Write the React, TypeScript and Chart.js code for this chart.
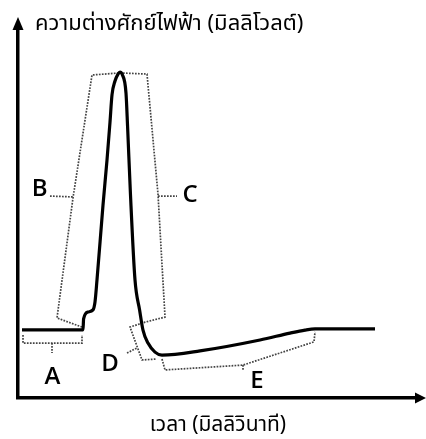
import React, { useEffect, useRef } from "react";
import Chart from "chart.js/auto";

// Membrane potential trace (x: ms, y: mV)
const traceX = [1, 16.25, 16.4, 17.5, 18.75, 19.25, 19.75, 21.25, 22.25, 23, 23.5, 24.25, 25, 25.5, 26, 27, 27.4, 28.1, 29.25, 30.4, 31.25, 32.5, 34.25, 36, 45.5, 60.5, 68, 71.75, 74.25, 89.25];
const traceY = [-70.6, -70.6, -65.9, -62.9, -62, -58.6, -49.1, -16.8, 2.6, 19, 30.7, 36.7, 39.7, 40.6, 39.7, 31.5, 16.9, -11.6, -49.1, -62, -70.7, -76.3, -80.2, -81.5, -79.7, -75, -72, -70.7, -70.2, -70.2];

// Dotted brackets
const bracketAX = [1.25, 1.25, 16, 16];
const bracketAY = [-72.8, -76.3, -76.3, -72.8];
const tickAX = [8.5, 8.5];
const tickAY = [-76.3, -80.6];
const bracketBX = [16, 9.75, 13.75, 18.5, 25.5];
const bracketBY = [-69.4, -65.5, -13.7, 39.3, 40.2];
const tickBX = [8, 13.75];
const tickBY = [-12.9, -13.3];
const bracketCDX = [25.5, 32.25, 35, 36.75, 31.75, 28, 31, 34.5];
const bracketCDY = [40.2, 39.7, -12.1, -65.1, -67.3, -69.4, -83.6, -83.2];
const tickCX = [35, 39.75];
const tickCY = [-12.9, -12.9];
const tickDX = [27.25, 29.75];
const tickDY = [-80.6, -78.4];
const bracketEX = [36, 36.75, 56.25, 74, 74.25];
const bracketEY = [-83.2, -87.9, -85.8, -75.8, -71.5];
const tickEX = [56.25, 56.25];
const tickEY = [-85.8, -88.4];

// Phase letters
const letters = ["A", "B", "C", "D", "E"];
const letterX = [8.6, 5.4, 43, 23, 59.75];
const letterY = [-91, -10, -12.5, -85.4, -92.7];

const yTitle = "ความต่างศักย์ไฟฟ้า (มิลลิโวลต์)";
const xTitle = "เวลา (มิลลิวินาที)";

const THAI_FONT = "'Noto Sans Thai', 'Noto Sans Thai UI', Tahoma, 'Noto Sans', 'DejaVu Sans', sans-serif";
const LATIN_FONT = "'Open Sans', 'Noto Sans', sans-serif";

const pts = (xs: number[], ys: number[]) => xs.map((x, i) => ({ x, y: ys[i] }));

const dotted = (xs: number[], ys: number[]) => ({
  data: pts(xs, ys),
  borderColor: "#444",
  borderWidth: 1.7,
  borderDash: [1.7, 1.3],
  pointRadius: 0,
  tension: 0,
  fill: false,
});

const annotate = {
  id: "annotate",
  afterDraw(chart: any) {
    const { ctx, chartArea, scales } = chart;
    ctx.save();
    ctx.fillStyle = "#000";
    const xl = chartArea.left;
    ctx.beginPath();
    ctx.moveTo(xl, chartArea.top - 10);
    ctx.lineTo(xl - 5.5, chartArea.top + 3);
    ctx.lineTo(xl + 5.5, chartArea.top + 3);
    ctx.closePath();
    ctx.fill();
    const yb = chartArea.bottom;
    ctx.beginPath();
    ctx.moveTo(chart.width, yb);
    ctx.lineTo(chartArea.right - 3, yb - 5.5);
    ctx.lineTo(chartArea.right - 3, yb + 5.5);
    ctx.closePath();
    ctx.fill();

    ctx.font = `600 24px ${LATIN_FONT}`;
    ctx.textAlign = "center";
    ctx.textBaseline = "middle";
    letters.forEach((l, i) => {
      ctx.fillText(l, scales.x.getPixelForValue(letterX[i]), scales.y.getPixelForValue(letterY[i]));
    });

    ctx.font = `22px ${THAI_FONT}`;
    ctx.textAlign = "left";
    ctx.textBaseline = "alphabetic";
    ctx.fillText(yTitle, xl + 17, 30);
    ctx.restore();
  },
};

export default function App() {
  const ref = useRef<HTMLCanvasElement>(null);
  useEffect(() => {
    if (!ref.current) return;
    const chart = new Chart(ref.current, {
      type: "line",
      data: {
        datasets: [
          {
            data: pts(traceX, traceY),
            borderColor: "#000",
            borderWidth: 3.2,
            pointRadius: 0,
            cubicInterpolationMode: "monotone",
            fill: false,
          },
          dotted(bracketAX, bracketAY),
          dotted(tickAX, tickAY),
          dotted(bracketBX, bracketBY),
          dotted(tickBX, tickBY),
          dotted(bracketCDX, bracketCDY),
          dotted(tickCX, tickCY),
          dotted(tickDX, tickDY),
          dotted(bracketEX, bracketEY),
          dotted(tickEX, tickEY),
        ] as any,
      },
      options: {
        animation: false,
        responsive: false,
        layout: { padding: { left: 18, right: 8, top: 27, bottom: 0 } },
        plugins: { legend: { display: false }, tooltip: { enabled: false }, title: { display: false } },
        scales: {
          x: {
            type: "linear",
            min: 0,
            max: 100,
            ticks: { display: false },
            grid: { display: false },
            border: { display: true, color: "#000", width: 3.5 },
            title: {
              display: true,
              text: xTitle,
              color: "#000",
              font: { size: 21, family: THAI_FONT },
              padding: 0,
            },
            afterFit: (s: any) => {
              s.height = 41;
            },
          },
          y: {
            type: "linear",
            min: -100,
            max: 60,
            ticks: { display: false },
            grid: { display: false },
            border: { display: true, color: "#000", width: 3.5 },
            afterFit: (s: any) => {
              s.width = 0;
            },
          },
        },
      },
      plugins: [annotate],
    });
    return () => chart.destroy();
  }, []);
  return (
    <div style={{ position: "fixed", left: 0, top: 0, width: 426, height: 439, background: "#fff" }}>
      <canvas ref={ref} width={426} height={439} style={{ width: 426, height: 439 }} />
    </div>
  );
}
